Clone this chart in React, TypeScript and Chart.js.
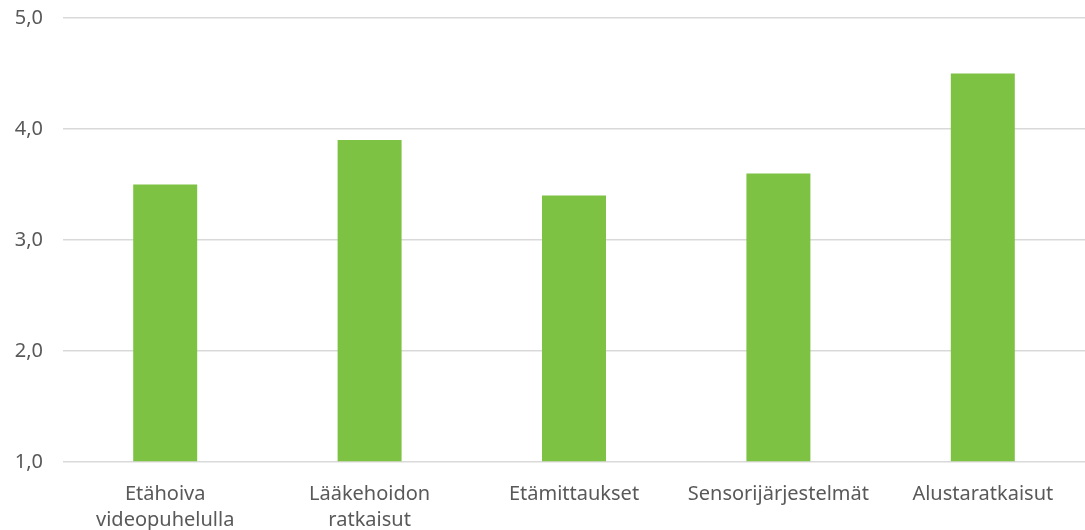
import React, { useEffect, useRef } from "react";
import { Chart, registerables } from "chart.js";

Chart.register(...registerables);

const categories: string[][] = [
  ["Etähoiva", "videopuhelulla"],
  ["Lääkehoidon", "ratkaisut"],
  ["Etämittaukset"],
  ["Sensorijärjestelmät"],
  ["Alustaratkaisut"],
];
const values: number[] = [3.5, 3.9, 3.4, 3.6, 4.5];
const yMin = 1;
const yMax = 5;

export default function App() {
  const ref = useRef<HTMLCanvasElement | null>(null);
  useEffect(() => {
    document.body.style.margin = "0";
    document.body.style.overflow = "hidden";
    if (!ref.current) return;
    const font = { family: "'Noto Sans', sans-serif", size: 20 };
    const chart = new Chart(ref.current, {
      type: "bar",
      data: {
        labels: categories,
        datasets: [
          {
            data: values,
            backgroundColor: "#7DC243",
            categoryPercentage: 1,
            barPercentage: 0.313,
            base: yMin,
          },
        ],
      },
      options: {
        responsive: false,
        animation: false,
        maintainAspectRatio: false,
        layout: { padding: { top: 4, left: 0, right: 0, bottom: 0 } },
        plugins: { legend: { display: false }, tooltip: { enabled: false } },
        scales: {
          x: {
            grid: { display: false },
            border: { display: false },
            ticks: {
              color: "#595959",
              font: { ...font, lineHeight: 1.3 },
              padding: 11,
              maxRotation: 0,
              autoSkip: false,
            },
            afterFit: (s: any) => {
              s.height = 98;
            },
          },
          y: {
            min: yMin,
            max: yMax,
            grid: { color: "#d9d9d9", lineWidth: 1.5, drawTicks: false },
            border: { display: false },
            ticks: {
              stepSize: 1,
              color: "#595959",
              font: { ...font, size: 20 },
              padding: 20,
              callback: (v: any) => Number(v).toFixed(1).replace(".", ","),
            },
            afterFit: (s: any) => {
              s.width = 63;
            },
          },
        },
      },
    });
    return () => chart.destroy();
  }, []);
  return (
    <canvas
      ref={ref}
      width={1085}
      height={574}
      style={{ display: "block", marginTop: -14 }}
    />
  );
}
